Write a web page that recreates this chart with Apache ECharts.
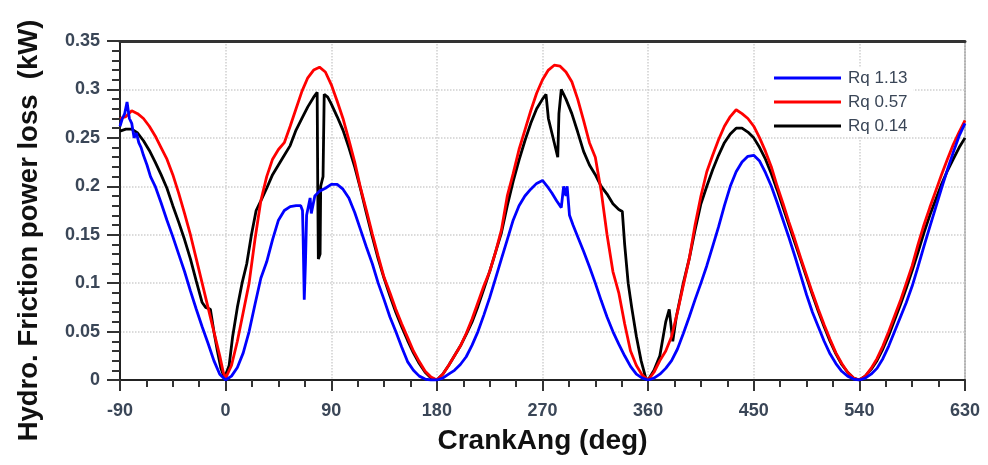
<!DOCTYPE html>
<html><head><meta charset="utf-8">
<script src="https://cdn.jsdelivr.net/npm/echarts@6/dist/echarts.min.js"></script>
<style>html,body{margin:0;padding:0;background:#fff}#c{width:988px;height:465px}</style>
</head><body><div id="c"></div>
<script>
const seriesNames = ['Rq 1.13', 'Rq 0.57', 'Rq 0.14'];
const xTicks = [-90, 0, 90, 180, 270, 360, 450, 540, 630];
const yTicks = [0, 0.05, 0.1, 0.15, 0.2, 0.25, 0.3, 0.35];

// [crank angle (deg), friction power loss (kW)]
const blue = [
 [-90,0.262],[-88,0.27],[-86,0.275],[-84,0.287],[-82,0.27],[-80,0.265],[-78,0.25],[-76,0.255],[-74,0.245],[-72,0.24],
 [-70,0.232],[-67,0.222],[-64,0.21],[-60,0.2],[-55,0.183],[-50,0.165],[-45,0.148],[-40,0.13],[-35,0.112],[-30,0.092],
 [-25,0.073],[-20,0.055],[-15,0.038],[-10,0.02],[-5,0.006],[0,0],
 [5,0.004],[10,0.013],[15,0.028],[20,0.05],[25,0.078],[30,0.105],[35,0.122],[40,0.145],[45,0.165],[50,0.175],
 [55,0.179],[60,0.18],[64,0.18],[65.5,0.175],[66,0.15],[67,0.083],[68,0.12],[69,0.17],[70,0.168],[72,0.188],
 [73,0.172],[74,0.17],[76,0.19],[80,0.195],[85,0.198],[90,0.202],[95,0.202],[100,0.197],[105,0.188],[110,0.173],
 [115,0.155],[120,0.137],[125,0.12],[130,0.1],[135,0.083],[140,0.065],[145,0.05],[150,0.034],[155,0.019],[160,0.01],
 [165,0.004],[170,0.001],[175,0],[180,0],
 [185,0.002],[190,0.006],[195,0.01],[200,0.016],[205,0.024],[210,0.036],[215,0.05],[220,0.067],[225,0.085],[230,0.105],
 [235,0.125],[240,0.145],[245,0.165],[250,0.18],[255,0.19],[260,0.197],[265,0.203],[270,0.206],[274,0.2],[278,0.193],
 [282,0.185],[286,0.178],[288,0.2],[290,0.19],[291,0.2],[293,0.17],[296,0.16],[300,0.148],[305,0.133],[310,0.117],
 [315,0.1],[320,0.082],[325,0.065],[330,0.05],[335,0.037],[340,0.025],[345,0.014],[350,0.006],[355,0.002],[360,0],
 [365,0.002],[370,0.006],[375,0.012],[380,0.02],[385,0.032],[390,0.048],[395,0.065],[400,0.083],[405,0.1],[410,0.118],
 [415,0.138],[420,0.158],[425,0.18],[430,0.2],[435,0.215],[440,0.225],[445,0.231],[450,0.232],[455,0.226],[460,0.214],
 [465,0.2],[470,0.183],[475,0.165],[480,0.147],[485,0.128],[490,0.108],[495,0.088],[500,0.07],[505,0.055],[510,0.04],
 [515,0.027],[520,0.017],[525,0.009],[530,0.004],[535,0.001],[540,0],
 [545,0.002],[550,0.006],[555,0.012],[560,0.022],[565,0.035],[570,0.05],[575,0.065],[580,0.08],[585,0.097],[590,0.117],
 [595,0.138],[600,0.158],[605,0.178],[610,0.198],[615,0.217],[620,0.235],[625,0.252],[630,0.265]
];
const red = [
 [-90,0.27],[-85,0.272],[-80,0.278],[-75,0.275],[-70,0.27],[-65,0.262],[-60,0.252],[-55,0.24],[-50,0.228],[-45,0.212],
 [-40,0.193],[-35,0.172],[-30,0.15],[-25,0.125],[-20,0.1],[-15,0.075],[-10,0.05],[-5,0.025],[-2,0.008],[0,0.002],
 [5,0.015],[10,0.04],[15,0.07],[20,0.1],[25,0.145],[30,0.185],[35,0.21],[40,0.228],[45,0.238],[50,0.245],
 [55,0.262],[60,0.28],[65,0.298],[70,0.312],[75,0.32],[80,0.323],[85,0.318],[90,0.305],[95,0.288],[100,0.27],
 [105,0.248],[110,0.225],[115,0.198],[120,0.175],[125,0.151],[130,0.128],[135,0.106],[140,0.09],[145,0.073],[150,0.058],
 [155,0.044],[160,0.03],[165,0.019],[170,0.009],[175,0.003],[180,0],
 [185,0.006],[190,0.015],[195,0.025],[200,0.035],[205,0.048],[210,0.063],[215,0.08],[220,0.097],[225,0.112],[230,0.132],
 [235,0.155],[240,0.19],[245,0.213],[250,0.238],[255,0.258],[260,0.278],[265,0.296],[270,0.31],[275,0.32],[280,0.325],
 [285,0.324],[290,0.318],[295,0.308],[300,0.29],[305,0.268],[310,0.245],[315,0.23],[320,0.195],[325,0.15],[330,0.112],
 [335,0.09],[340,0.058],[345,0.03],[350,0.015],[355,0.005],[360,0],
 [365,0.008],[370,0.02],[375,0.03],[380,0.045],[385,0.07],[390,0.098],[395,0.125],[400,0.16],[405,0.19],[410,0.215],
 [415,0.232],[420,0.248],[425,0.262],[430,0.272],[435,0.279],[440,0.275],[445,0.27],[450,0.262],[455,0.25],[460,0.236],
 [465,0.22],[470,0.2],[475,0.182],[480,0.163],[485,0.145],[490,0.126],[495,0.108],[500,0.09],[505,0.073],[510,0.057],
 [515,0.042],[520,0.028],[525,0.017],[530,0.008],[535,0.002],[540,0],
 [545,0.004],[550,0.012],[555,0.022],[560,0.035],[565,0.05],[570,0.066],[575,0.082],[580,0.1],[585,0.118],[590,0.14],
 [595,0.16],[600,0.178],[605,0.195],[610,0.212],[615,0.228],[620,0.243],[625,0.256],[630,0.268]
];
const black = [
 [-90,0.257],[-85,0.259],[-80,0.259],[-75,0.255],[-70,0.247],[-65,0.237],[-60,0.225],[-55,0.212],[-50,0.198],[-45,0.18],
 [-40,0.163],[-35,0.145],[-30,0.125],[-25,0.102],[-20,0.08],[-17,0.075],[-13,0.073],[-10,0.05],[-7,0.03],[-4,0.012],
 [-1,0.002],[0,0],
 [3,0.015],[6,0.045],[10,0.075],[14,0.1],[18,0.12],[22,0.15],[26,0.175],[30,0.185],[35,0.198],[40,0.212],
 [45,0.222],[50,0.232],[55,0.242],[60,0.258],[65,0.27],[70,0.282],[75,0.292],[78,0.297],[78.5,0.2],[79,0.125],
 [80.5,0.13],[81,0.2],[83,0.21],[84,0.295],[87,0.292],[90,0.285],[95,0.272],[100,0.258],[105,0.24],[110,0.22],
 [115,0.197],[120,0.172],[125,0.148],[130,0.125],[135,0.105],[140,0.087],[145,0.07],[150,0.055],[155,0.041],[160,0.028],
 [165,0.017],[170,0.008],[175,0.002],[180,0],
 [185,0.006],[190,0.015],[195,0.025],[200,0.035],[205,0.047],[210,0.06],[215,0.076],[220,0.094],[225,0.112],[230,0.132],
 [235,0.152],[240,0.18],[245,0.205],[250,0.227],[255,0.247],[260,0.265],[265,0.28],[270,0.29],[273,0.295],[275,0.27],
 [278,0.255],[281,0.24],[283,0.23],[284,0.275],[286,0.3],[290,0.29],[295,0.275],[300,0.256],[305,0.236],[310,0.222],
 [315,0.212],[320,0.2],[325,0.192],[330,0.182],[335,0.176],[338,0.174],[340,0.14],[343,0.1],[346,0.075],[350,0.045],
 [354,0.02],[358,0.002],[360,0],
 [365,0.01],[370,0.025],[375,0.06],[378,0.073],[381,0.04],[384,0.065],[390,0.1],[395,0.125],[400,0.155],[405,0.182],
 [410,0.2],[415,0.217],[420,0.232],[425,0.245],[430,0.254],[435,0.26],[440,0.26],[445,0.256],[450,0.25],[455,0.24],
 [460,0.228],[465,0.213],[470,0.196],[475,0.178],[480,0.16],[485,0.142],[490,0.124],[495,0.106],[500,0.088],[505,0.071],
 [510,0.055],[515,0.04],[520,0.027],[525,0.016],[530,0.008],[535,0.002],[540,0],
 [545,0.004],[550,0.011],[555,0.02],[560,0.032],[565,0.046],[570,0.062],[575,0.078],[580,0.095],[585,0.113],[590,0.132],
 [595,0.152],[600,0.17],[605,0.186],[610,0.202],[615,0.216],[620,0.228],[625,0.24],[630,0.25]
];

const colors = ['#0000ff', '#ff0000', '#000000'];
const seriesData = [blue, red, black];

const chart = echarts.init(document.getElementById('c'), null, {renderer: 'canvas'});
const labelColor = '#3a4657';
const FONT = 'Arial, "Liberation Sans", sans-serif';
const xMin = xTicks[0], xMax = xTicks[xTicks.length - 1];
const yMin = yTicks[0], yMax = yTicks[yTicks.length - 1];
chart.setOption({
  animation: false,
  backgroundColor: '#fff',
  grid: {left: 120, right: 23, top: 41, bottom: 85, outerBoundsMode: 'none', containLabel: false,
         show: true, borderColor: '#999', borderWidth: 1.5, backgroundColor: 'transparent'},
  legend: {
    data: seriesNames, orient: 'vertical', left: 768, top: 67,
    icon: 'rect', itemWidth: 67, itemHeight: 3, itemGap: 6,
    backgroundColor: '#fff', padding: [2, 6, 2, 6],
    textStyle: {fontFamily: FONT, fontSize: 17, color: labelColor, lineHeight: 18, padding: [0, 0, 0, 2]}
  },
  xAxis: [{
    type: 'value', min: xMin, max: xMax, interval: 90, position: 'bottom',
    name: 'CrankAng (deg)', nameLocation: 'middle', nameGap: 47,
    nameTextStyle: {fontFamily: FONT, fontSize: 28, fontWeight: 'bold', color: '#111'},
    axisLine: {onZero: false, lineStyle: {color: '#222', width: 2}},
    axisTick: {show: true, length: 11, lineStyle: {color: '#333', width: 2}},
    minorTick: {show: true, splitNumber: 4, length: 7, lineStyle: {color: '#333', width: 2}},
    axisLabel: {fontFamily: FONT, fontSize: 18, fontWeight: 'bold', color: labelColor, margin: 22},
    splitLine: {show: true, lineStyle: {color: '#cfcfcf', type: 'dotted', width: 1.5}}
  }, {
    type: 'value', min: xMin, max: xMax, position: 'top',
    axisLine: {show: true, onZero: false, lineStyle: {color: '#333', width: 3}},
    axisTick: {show: false}, axisLabel: {show: false}, splitLine: {show: false}
  }],
  yAxis: {
    type: 'value', min: yMin, max: yMax, interval: 0.05,
    name: 'Hydro. Friction power loss  (kW)', nameLocation: 'middle', nameGap: 77, nameRotate: 90,
    nameTextStyle: {fontFamily: FONT, fontSize: 27.5, fontWeight: 'bold', color: '#111', padding: [0, 40, 0, 0]},
    axisLine: {show: true, onZero: false, lineStyle: {color: '#222', width: 2}},
    axisTick: {show: true, length: 13, lineStyle: {color: '#333', width: 2}},
    minorTick: {show: true, splitNumber: 5, length: 8, lineStyle: {color: '#333', width: 2}},
    axisLabel: {fontFamily: FONT, fontSize: 18, fontWeight: 'bold', color: labelColor, margin: 20,
      formatter: v => String(parseFloat(v.toFixed(2)))},
    splitLine: {show: true, lineStyle: {color: '#cfcfcf', type: 'dotted', width: 1.5}}
  },
  series: seriesNames.map((n, i) => ({
    name: n, type: 'line', data: seriesData[i], showSymbol: false, symbol: 'none',
    color: colors[i], lineStyle: {color: colors[i], width: 2.8}, z: 5 - i
  })).reverse()
});
</script></body></html>
